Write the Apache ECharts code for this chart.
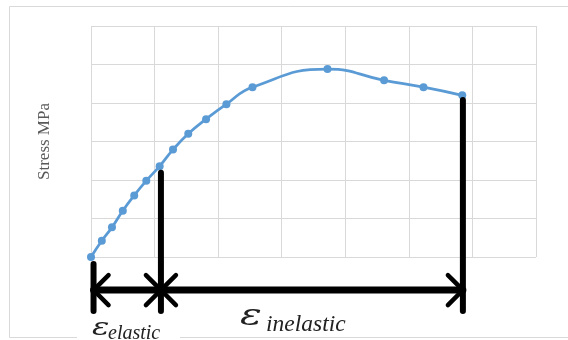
<!DOCTYPE html>
<html><head><meta charset="utf-8">
<script src="https://cdn.jsdelivr.net/npm/echarts@6/dist/echarts.min.js"></script>
<style>html,body{margin:0;padding:0;background:#fff}#c{width:568px;height:340px}</style>
</head><body><div id="c"></div>
<script>
// stress–strain curve (arbitrary units; axes carry no tick labels)
const strain = [0, 0.17, 0.33, 0.50, 0.68, 0.87, 1.08, 1.29, 1.53, 1.81, 2.13, 2.54, 3.72, 4.61, 5.23, 5.84];
const stress = [0, 0.42, 0.77, 1.20, 1.60, 1.98, 2.36, 2.79, 3.20, 3.58, 3.97, 4.41, 4.88, 4.59, 4.41, 4.20];
const xRange = [0, 7];
const yRange = [0, 6];
const yAxisTitle = 'Stress MPa';
const elasticLabel = ['ε', 'elastic'];
const inelasticLabel = ['ε', 'inelastic'];
// annotation anchors in data units
const startStrain = 0.04;
const elasticLimit = 1.10;
const fractureStrain = 5.85;
const arrowLevel = -0.86;
const markerBottom = -1.40;
const startTop = -0.18;
const elasticTop = 2.19;
const fractureTop = 4.08;

const chart = echarts.init(document.getElementById('c'), null, {renderer: 'canvas'});
const gridLine = {show: true, lineStyle: {color: '#d9d9d9', width: 1}};
chart.setOption({
  animation: false,
  grid: {left: 91, top: 26, right: 32, bottom: 83},
  xAxis: {type: 'value', min: xRange[0], max: xRange[1], interval: 1,
    axisLine: {show: false}, axisTick: {show: false}, axisLabel: {show: false}, splitLine: gridLine},
  yAxis: {type: 'value', min: yRange[0], max: yRange[1], interval: 1,
    name: yAxisTitle, nameLocation: 'middle', nameGap: 38, nameRotate: 90,
    nameTextStyle: {fontFamily: 'Liberation Serif', fontSize: 17, color: '#595959'},
    axisLine: {show: false}, axisTick: {show: false}, axisLabel: {show: false}, splitLine: gridLine},
  series: [{
    type: 'line', smooth: 0.5,
    data: strain.map((s, i) => [s, stress[i]]),
    symbol: 'circle', symbolSize: 8,
    lineStyle: {color: '#5b9bd5', width: 2.75},
    itemStyle: {color: '#5b9bd5'}
  }]
});

const P = (x, y) => chart.convertToPixel({gridIndex: 0}, [x, y]);
const g = [];
g.push({type: 'rect', z: -10, shape: {x: 9.5, y: 6.5, width: 570, height: 331},
  style: {fill: null, stroke: '#d9d9d9', lineWidth: 1}, silent: true});
const bar = (a, b, w) => ({type: 'line', z: 50, shape: {x1: a[0], y1: a[1], x2: b[0], y2: b[1]},
  style: {stroke: '#000', lineWidth: w, lineCap: 'round'}});
const head = (pts) => ({type: 'polyline', z: 50, shape: {points: pts},
  style: {stroke: '#000', lineWidth: 4.5, fill: null, lineCap: 'round', lineJoin: 'miter'}});
const a0 = P(startStrain, arrowLevel), a1 = P(elasticLimit, arrowLevel), a2 = P(fractureStrain, arrowLevel);
g.push(bar(P(startStrain, startTop), P(startStrain, markerBottom), 6));
g.push(bar(P(elasticLimit, elasticTop), P(elasticLimit, markerBottom), 6));
g.push(bar(P(fractureStrain, fractureTop), P(fractureStrain, markerBottom), 6));
g.push(bar(a0, a2, 7));
const d = 15;
g.push(head([[a0[0] + d, a0[1] - d], a0, [a0[0] + d, a0[1] + d]]));
g.push(head([[a1[0] - d, a1[1] - d], a1, [a1[0] - d, a1[1] + d]]));
g.push(head([[a1[0] + d, a1[1] - d], a1, [a1[0] + d, a1[1] + d]]));
g.push(head([[a2[0] - d, a2[1] - d], a2, [a2[0] - d, a2[1] + d]]));
// white label box
g.push({type: 'rect', z: -5, shape: {x: 77, y: 316, width: 103, height: 24}, style: {fill: '#fff'}});
const tstyle = (txt, size, fam) => ({text: txt, fontFamily: fam, fontStyle: 'italic',
  fontSize: size, fill: '#222', verticalAlign: 'bottom', align: 'left'});
g.push({type: 'text', z: 60, x: 92, y: 341, scaleX: 1.35, style: tstyle(elasticLabel[0], 24, 'DejaVu Serif')});
g.push({type: 'text', z: 60, x: 108, y: 344, style: tstyle(elasticLabel[1], 20, 'Liberation Serif')});
g.push({type: 'text', z: 60, x: 240, y: 332, scaleX: 1.4, style: tstyle(inelasticLabel[0], 29, 'DejaVu Serif')});
g.push({type: 'text', z: 60, x: 266, y: 336, style: tstyle(inelasticLabel[1], 23.5, 'Liberation Serif')});
chart.setOption({graphic: g});
</script></body></html>
